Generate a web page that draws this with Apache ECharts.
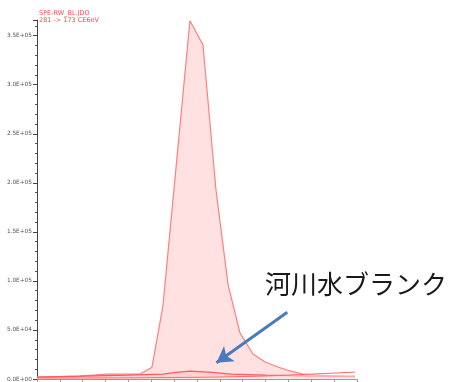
<!DOCTYPE html>
<html>
<head>
<meta charset="utf-8">
<script src="https://cdn.jsdelivr.net/npm/echarts@6/dist/echarts.min.js"></script>
<style>
  html, body { margin: 0; padding: 0; background: #fff; }
  #chart { width: 455px; height: 382px; }
</style>
</head>
<body>
<div id="chart"></div>
<script>
// Retention time (arbitrary axis units) and ion counts for each trace
const sampleTime   = [0, 1.88, 3.06, 4.51, 5.03, 5.51, 6.69, 7.26, 7.83, 8.36, 8.88, 9.45, 9.98, 10.54, 11.07, 11.64, 12.82, 13.91];
const sampleCounts = [2000, 3000, 5000, 5000, 12000, 74500, 365300, 340800, 192900, 96000, 47000, 25500, 17300, 12200, 8200, 5100, 3100, 2000];

const blankTime   = [0, 2.0, 4.0, 5.5, 6.2, 6.69, 7.5, 8.5, 10.0, 12.0, 13.91];
const blankCounts = [2000, 3000, 4000, 5000, 7000, 8000, 7000, 5000, 4000, 3000, 3000];

const baseTime   = [0, 3.0, 6.0, 8.0, 10.0, 12.0, 13.91];
const baseCounts = [1000, 1000, 1500, 2000, 3000, 5000, 7000];

const yTicks = [0, 50000, 100000, 150000, 200000, 250000, 300000, 350000];
const yMax = 366000;

const fileLabel = 'SPE-RW_BL.JDO\n281 -> 173 CE6eV';
const noteLabel = '河川水ブランク';

function pairs(xs, ys) { return xs.map((x, i) => [x, ys[i]]); }

function sci(v) {
  if (v === 0) return '0.0E+00';
  const e = Math.floor(Math.log10(v));
  const m = v / Math.pow(10, e);
  return m.toFixed(1) + 'E+' + String(e).padStart(2, '0');
}

const chart = echarts.init(document.getElementById('chart'));
chart.setOption({
  animation: false,
  grid: { left: 37, right: 98, top: 20, bottom: 3 },
  xAxis: {
    type: 'value', min: 0, max: 14, interval: 1,
    axisLine: { lineStyle: { color: '#9a9a9a', width: 1 } },
    axisTick: { show: true, length: 3, lineStyle: { color: '#9a9a9a' } },
    axisLabel: { show: false },
    splitLine: { show: false }
  },
  yAxis: {
    type: 'value', min: 0, max: yMax, interval: 50000,
    axisLine: { show: true, lineStyle: { color: '#444', width: 1 } },
    axisTick: { show: true, length: 4, lineStyle: { color: '#444' } },
    minorTick: { show: true, splitNumber: 5, length: 2, lineStyle: { color: '#555' } },
    axisLabel: {
      fontSize: 5.8, color: '#555', margin: 5, fontFamily: 'DejaVu Sans',
      formatter: v => (yTicks.indexOf(v) >= 0 ? sci(v) : '')
    },
    splitLine: { show: false }
  },
  series: [
    {
      type: 'line', data: pairs(sampleTime, sampleCounts), symbol: 'none',
      lineStyle: { color: '#ff7f7f', width: 1.2 },
      areaStyle: { color: 'rgba(255,200,200,0.78)' }, z: 2
    },
    {
      type: 'line', data: pairs(blankTime, blankCounts), symbol: 'none',
      lineStyle: { color: '#ff5a5a', width: 1.2 },
      areaStyle: { color: 'rgba(255,185,185,0.5)' }, z: 3
    },
    {
      type: 'line', data: pairs(baseTime, baseCounts), symbol: 'none',
      lineStyle: { color: '#ff6a6a', width: 1 },
      areaStyle: { color: 'rgba(255,255,255,0.6)' }, z: 4,
      markLine: {
        silent: true, symbol: ['none', 'arrow'], symbolSize: [14, 16],
        label: { show: false },
        lineStyle: { color: '#4a7bbd', width: 3, type: 'solid' },
        data: [[{ coord: [10.95, 68000] }, { coord: [7.85, 16500] }]]
      }
    }
  ],
  graphic: [
    {
      type: 'text', left: 39, top: 10,
      style: { text: fileLabel, fill: '#ff4a4a', fontSize: 6.5, lineHeight: 6.5, fontFamily: 'DejaVu Sans' }
    },
    {
      type: 'text', left: 265, top: 271,
      style: { text: noteLabel, fill: '#1a1a1a', fontSize: 26, fontFamily: 'Noto Sans CJK JP' }
    }
  ]
});
</script>
</body>
</html>
